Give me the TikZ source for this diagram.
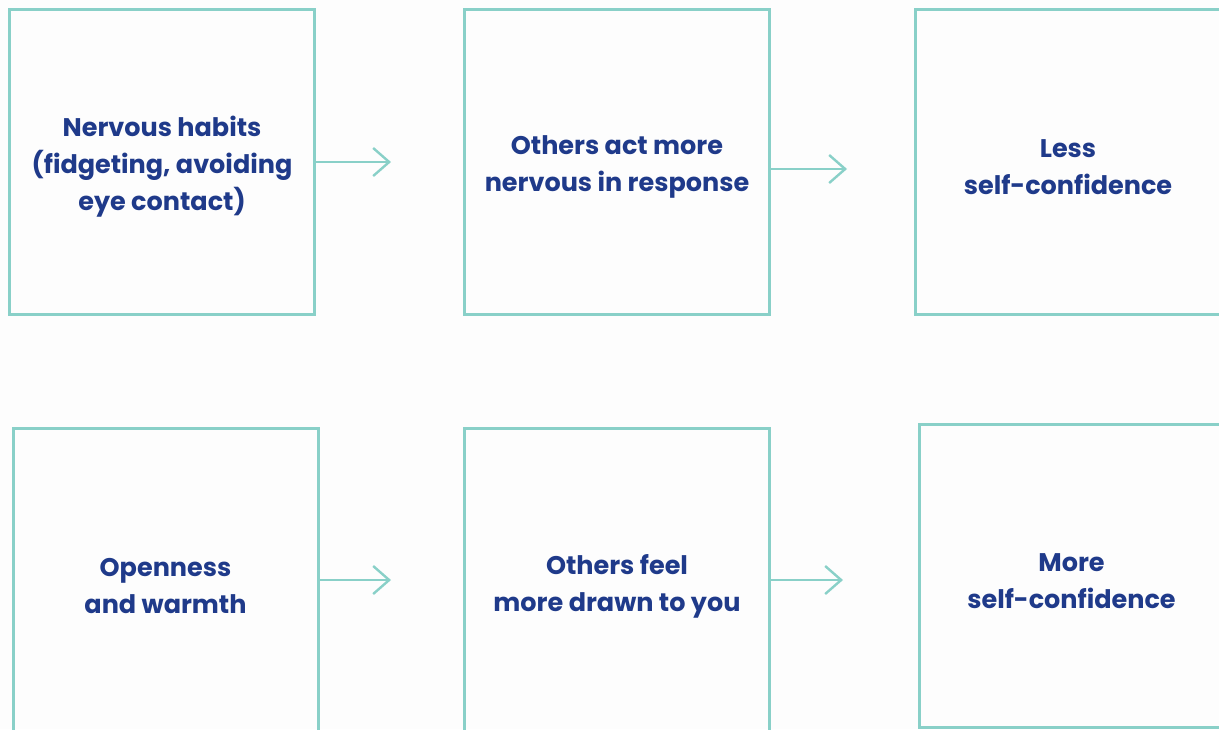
\documentclass[tikz,border=0pt]{standalone}
\usepackage{fontspec}
\setmainfont{Poppins}
\usetikzlibrary{arrows.meta}
\definecolor{teal1}{RGB}{137,208,200}
\definecolor{ink}{RGB}{31,58,138}
\definecolor{bg}{RGB}{253,253,253}
\begin{document}
\begin{tikzpicture}[x=1pt,y=-1pt,
  box/.style={draw=teal1, line width=3pt, inner sep=0pt,
    minimum width=305pt, minimum height=305pt},
  lbl/.style={inner sep=0pt, align=center, text=ink,
    font=\fontsize{25.5}{37}\selectfont\bfseries},
  arr/.style={draw=teal1, line width=2.4pt, -{Straight Barb[length=16pt,width=28pt]}}]
\useasboundingbox (0,0) rectangle (1219,729);
\fill[bg] (0,0) rectangle (1219,729);
% top row
\node[box] (b1) at (162,162) {};
\node[box] (b2) at (617,162) {};
\node[box] (b3) at (1068,162) {};
% bottom row
\node[box] (b4) at (165.5,581) {};
\node[box] (b5) at (617,581) {};
\node[box, minimum height=303pt] (b6) at (1071.5,575.5) {};
% texts
\node[lbl] (t1) at ([yshift=-5pt]b1.center) {Nervous habits\\(fidgeting, avoiding\\eye contact)};
\node[lbl] (t2) at ([yshift=-5pt]b2.center) {Others act more\\nervous in response};
\node[lbl] (t3) at ([yshift=-5pt]b3.center) {Less\\self-confidence};
\node[lbl] (t4) at ([yshift=-5pt]b4.center) {Openness\\and warmth};
\node[lbl] (t5) at ([yshift=-5pt]b5.center) {Others feel\\more drawn to you};
\node[lbl] (t6) at ([yshift=-6pt]b6.center) {More\\self-confidence};
% arrows
\coordinate (e1) at (391,162);
\coordinate (e2) at (847,169);
\coordinate (e3) at (391,580);
\coordinate (e4) at (843,580);
\draw[arr] (b1.east) -- (e1);
\draw[arr] (b2.east |- e2) -- (e2);
\draw[arr] (b4.east |- e3) -- (e3);
\draw[arr] (b5.east |- e4) -- (e4);
\end{tikzpicture}
\end{document}
